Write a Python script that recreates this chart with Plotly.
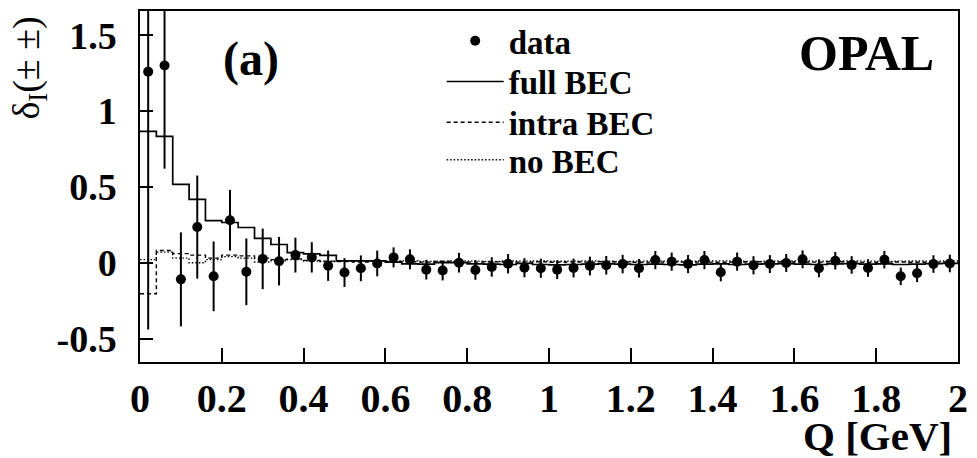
import numpy as np
import plotly.graph_objects as go

# ---- data ----
q_centers = [round(0.02 + 0.04 * i, 2) for i in range(50)]
bin_edges = [round(0.04 * i, 2) for i in range(51)]

data_y = [1.26, 1.30, -0.11, 0.235, -0.09, 0.28, -0.06, 0.025, 0.01, 0.05,
          0.035, -0.02, -0.065, -0.037, -0.005, 0.035, 0.022, -0.046, -0.052, 0.0,
          -0.048, -0.028, -0.007, -0.033, -0.037, -0.046, -0.035, -0.022, -0.017, -0.009,
          -0.037, 0.017, 0.007, -0.009, 0.017, -0.063, 0.007, -0.017, -0.009, -0.002,
          0.022, -0.037, 0.013, -0.015, -0.035, 0.02, -0.09, -0.07, -0.009, -0.005]
data_err = [1.70, 0.68, 0.31, 0.34, 0.23, 0.20, 0.22, 0.20, 0.16, 0.115,
            0.10, 0.10, 0.095, 0.085, 0.085, 0.066, 0.066, 0.065, 0.065, 0.065,
            0.065, 0.064, 0.064, 0.063, 0.063, 0.062, 0.062, 0.062, 0.061, 0.061,
            0.061, 0.06, 0.06, 0.06, 0.06, 0.06, 0.06, 0.06, 0.059, 0.059,
            0.059, 0.059, 0.058, 0.058, 0.058, 0.058, 0.058, 0.058, 0.058, 0.058]

full_bec = [0.866, 0.833, 0.516, 0.418, 0.278, 0.265, 0.232, 0.16, 0.12, 0.066,
            0.058, 0.048, 0.012, 0.012, 0.012, 0.004, -0.008, -0.01, 0.0, 0.0,
            -0.008, -0.01, -0.012, -0.005, -0.012, -0.015, -0.012, -0.01, -0.008, -0.01,
            -0.012, -0.01, -0.012, -0.015, -0.01, -0.008, -0.012, -0.01, -0.008, -0.006,
            -0.01, -0.012, -0.008, -0.006, -0.01, -0.008, -0.012, -0.01, -0.006, -0.004]
intra_bec = [-0.205, 0.08, 0.06, 0.05, 0.03, 0.05, 0.045, 0.03, 0.02, 0.025,
             0.015, 0.01, 0.008, 0.005, 0.01, 0.008, 0.006, 0.004, 0.008, 0.006,
             0.004, 0.006, 0.005, 0.004, 0.006, 0.003, 0.005, 0.004, 0.006, 0.005,
             0.003, 0.004, 0.006, 0.005, 0.004, 0.003, 0.005, 0.006, 0.004, 0.005,
             0.003, 0.004, 0.006, 0.005, 0.002, 0.004, 0.005, 0.003, 0.004, 0.005]
no_bec = [0.02, 0.07, 0.03, 0.0, 0.02, 0.04, 0.03, 0.005, 0.012, 0.02,
          0.01, 0.008, 0.01, 0.012, 0.01, 0.01, 0.012, 0.008, 0.01, 0.012,
          0.01, 0.008, 0.011, 0.01, 0.012, 0.009, 0.01, 0.012, 0.01, 0.008,
          0.01, 0.012, 0.01, 0.009, 0.011, 0.012, 0.01, 0.008, 0.01, 0.012,
          0.011, 0.01, 0.009, 0.012, 0.01, 0.008, 0.01, 0.011, 0.01, 0.012]

x_ticks = [0, 0.2, 0.4, 0.6, 0.8, 1, 1.2, 1.4, 1.6, 1.8, 2]
x_ticktext = ["0", "0.2", "0.4", "0.6", "0.8", "1", "1.2", "1.4", "1.6", "1.8", "2"]
y_ticks = [-0.5, 0, 0.5, 1, 1.5]
y_ticktext = ["-0.5", "0", "0.5", "1", "1.5"]

FONT = "Liberation Serif"


def step(vals):
    return list(vals) + [vals[-1]]


def bold(s):
    return "<b>" + s + "</b>"


fig = go.Figure()
fig.add_trace(go.Scatter(x=bin_edges, y=step(full_bec), mode="lines", line_shape="hv",
                         line=dict(color="black", width=1.7), name=bold("full BEC"),
                         legend="legend2"))
fig.add_trace(go.Scatter(x=bin_edges, y=step(intra_bec), mode="lines", line_shape="hv",
                         line=dict(color="black", width=1.4, dash="4px,3px"), name=bold("intra BEC"),
                         legend="legend3"))
fig.add_trace(go.Scatter(x=bin_edges, y=step(no_bec), mode="lines", line_shape="hv",
                         line=dict(color="black", width=1.4, dash="1.5px,2px"), name=bold("no BEC"),
                         legend="legend4"))
fig.add_trace(go.Scatter(x=q_centers, y=data_y, mode="markers", name=bold("data"),
                         legend="legend",
                         marker=dict(color="black", size=10),
                         error_y=dict(type="data", array=data_err, color="black",
                                      thickness=2, width=0)))

LEG_X = 0.3688


def leg(yc):
    return dict(x=LEG_X, y=yc, xanchor="left", yanchor="middle",
                bgcolor="rgba(0,0,0,0)", font=dict(size=33, family=FONT, color="black"),
                itemwidth=57, borderwidth=0)


fig.update_layout(
    width=977, height=458,
    margin=dict(l=140, r=15, t=9, b=96),
    paper_bgcolor="white", plot_bgcolor="white",
    font=dict(family=FONT, color="black", size=32),
    showlegend=True,
    legend=leg(0.915),
    legend2=leg(0.799),
    legend3=leg(0.683),
    legend4=leg(0.576),
    xaxis=dict(range=[0, 2], tickvals=x_ticks, ticktext=[bold(t) for t in x_ticktext],
               ticks="inside", ticklen=14, tickwidth=1.5, tickcolor="black",
               showline=True, linecolor="black", linewidth=1.5, mirror=True,
               showgrid=False, zeroline=False,
               tickfont=dict(size=40, family=FONT)),
    yaxis=dict(range=[-0.655, 1.66], tickvals=y_ticks, ticktext=[bold(t) for t in y_ticktext],
               ticks="inside", ticklen=13, tickwidth=1.5, tickcolor="black",
               showline=True, linecolor="black", linewidth=1.5, mirror=True,
               showgrid=False, zeroline=False, ticklabelstandoff=14,
               tickfont=dict(size=38, family=FONT)),
    annotations=[
        dict(text=bold("(a)"), x=0.136, y=0.864, xref="paper", yref="paper",
             xanchor="center", yanchor="middle", showarrow=False,
             font=dict(size=48, family=FONT)),
        dict(text=bold("OPAL"), x=0.888, y=0.881, xref="paper", yref="paper",
             xanchor="center", yanchor="middle", showarrow=False,
             font=dict(size=50, family=FONT)),
        dict(text=bold("Q [GeV]"), x=0.9955, y=-0.21, xref="paper", yref="paper",
             xanchor="right", yanchor="middle", showarrow=False,
             font=dict(size=41, family=FONT)),
        dict(text="δ<sub>I</sub>(± ±)", x=-0.136, y=0.838, xref="paper", yref="paper",
             xanchor="center", yanchor="middle", showarrow=False, textangle=-90,
             font=dict(size=38, family=FONT)),
    ],
)

fig.write_html("out.html")
